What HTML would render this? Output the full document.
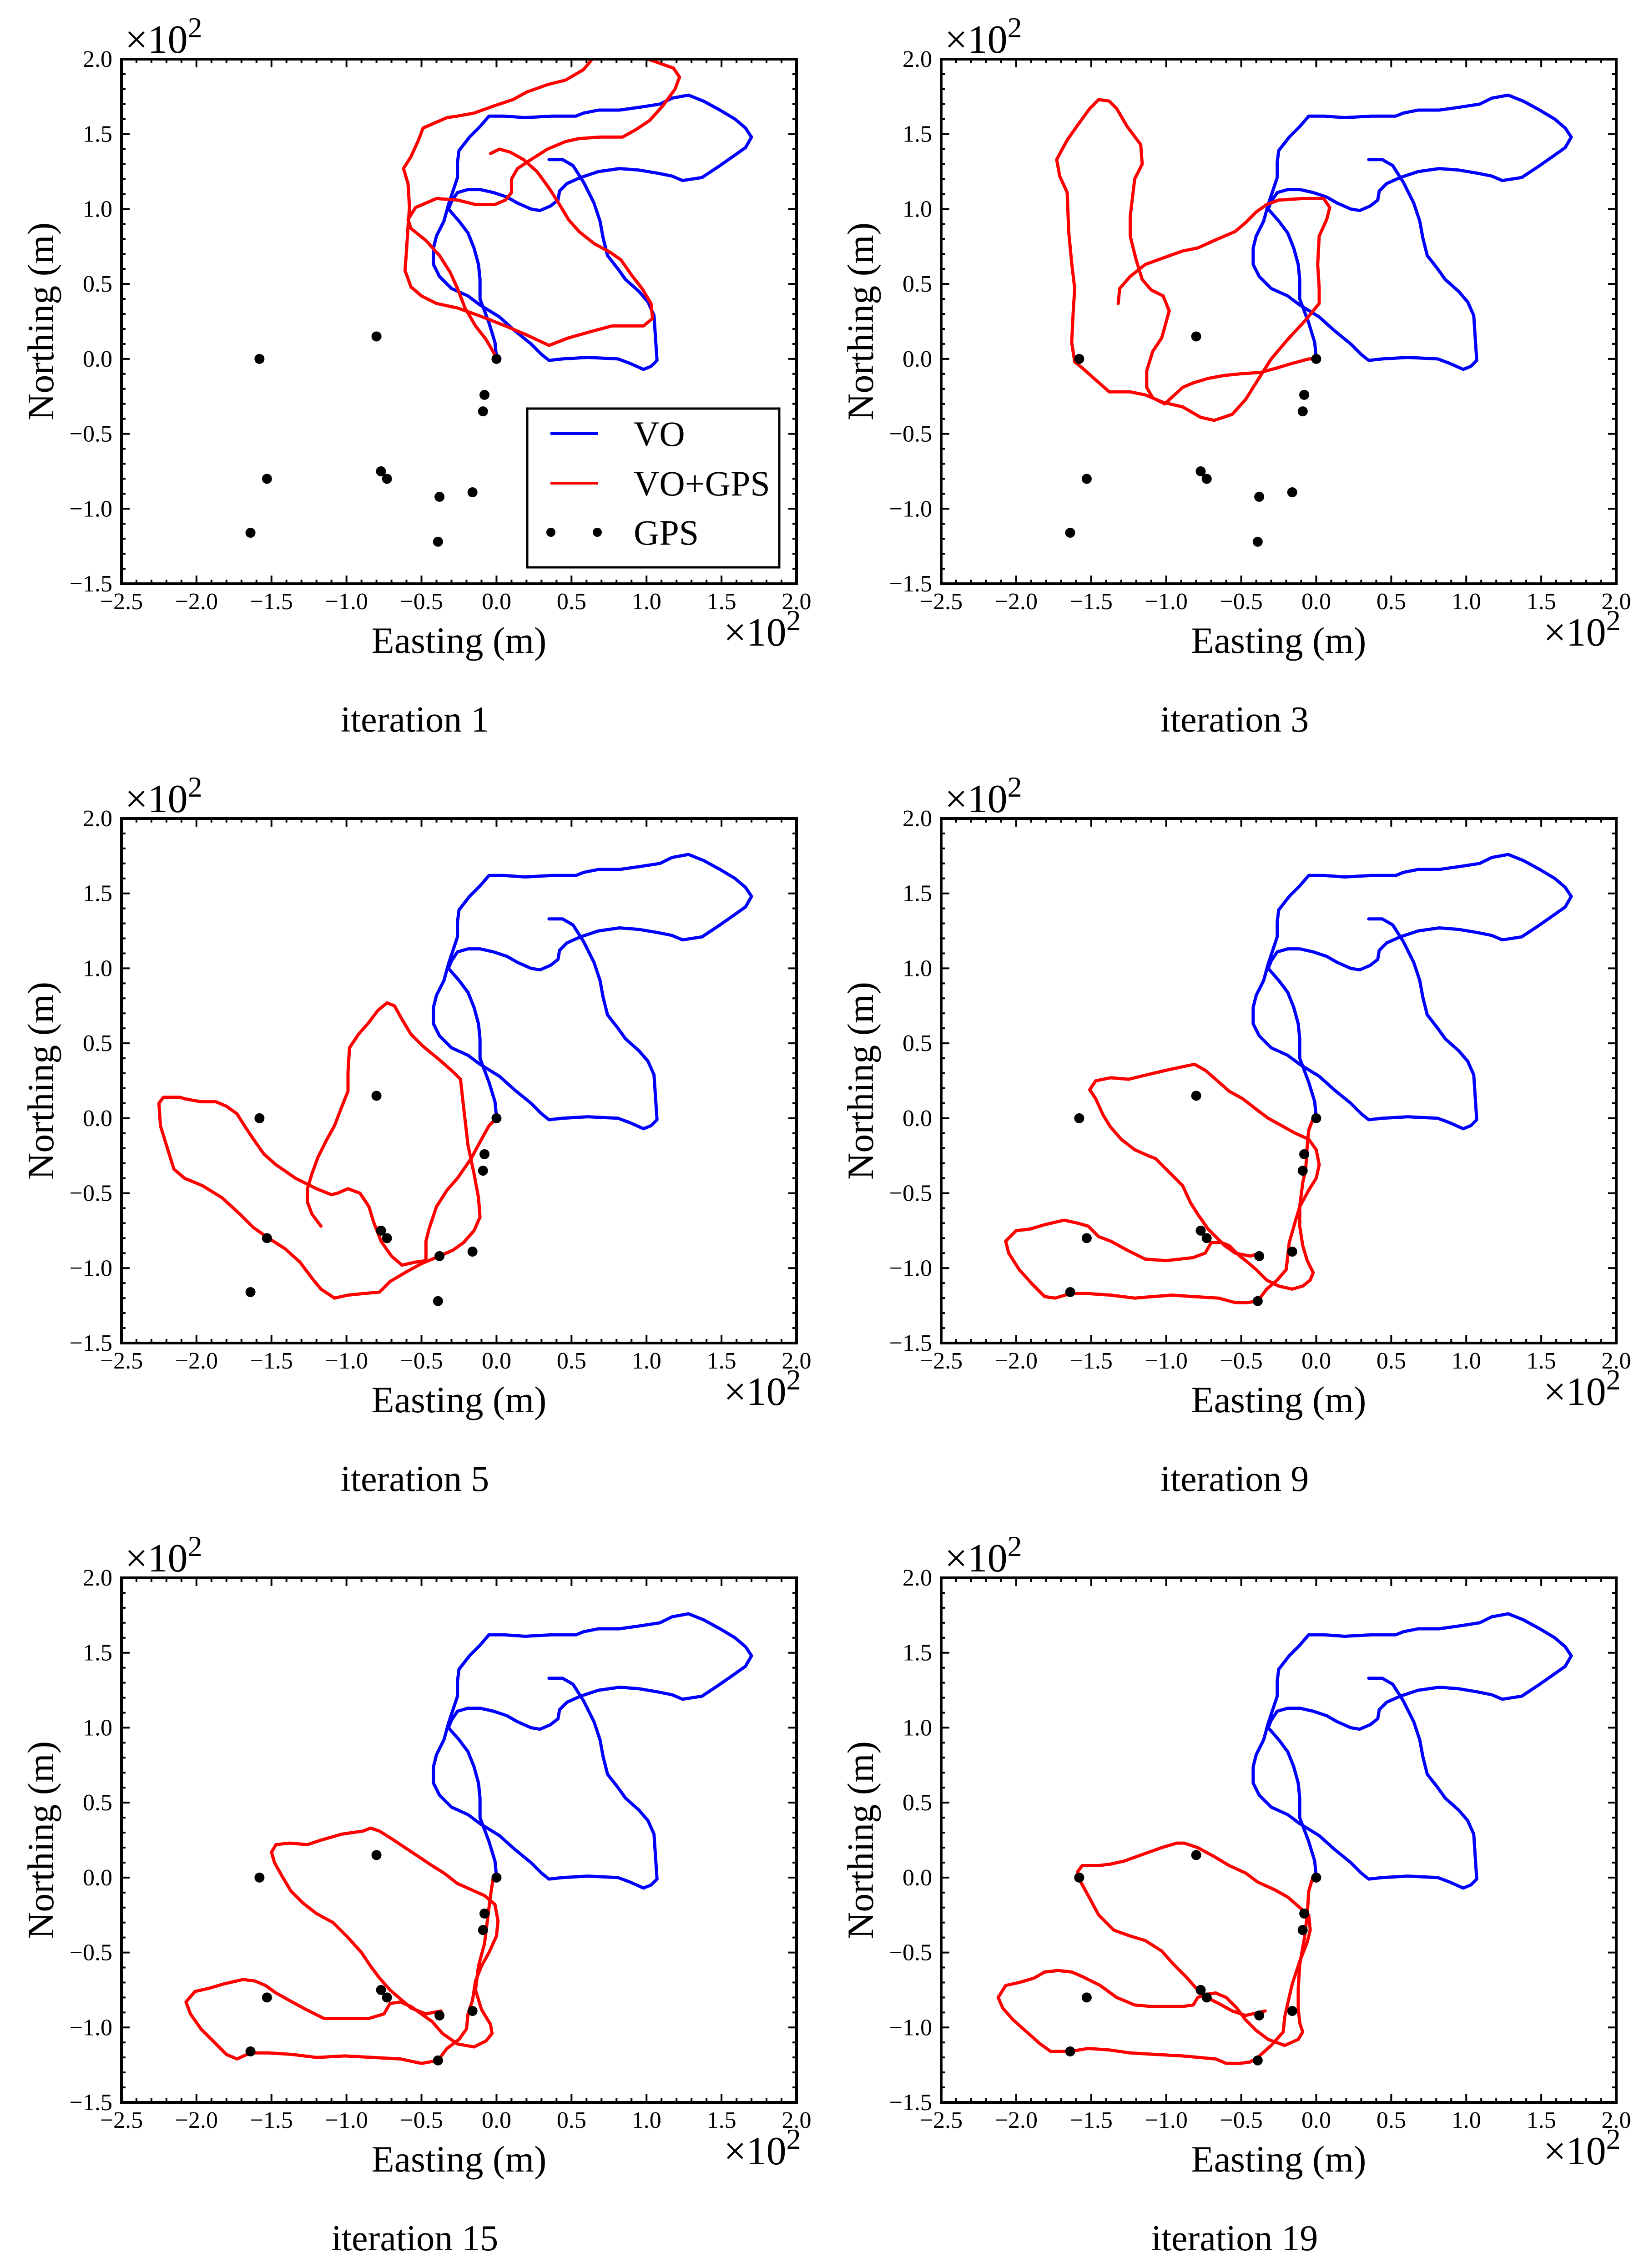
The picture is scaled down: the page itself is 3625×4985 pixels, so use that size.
<!DOCTYPE html>
<html>
<head>
<meta charset="utf-8">
<style>
html,body{margin:0;padding:0;background:#fff;}
svg{display:block;}
text{font-family:"Liberation Serif","DejaVu Serif",serif;fill:#000;}
</style>
</head>
<body>
<svg id="fig" xmlns="http://www.w3.org/2000/svg" width="3625" height="4985" viewBox="0 0 3625 4985"></svg>
<script>
// ---------- data (units of 10^2 m) ----------
const xTicks = [-2.5, -2.0, -1.5, -1.0, -0.5, 0.0, 0.5, 1.0, 1.5, 2.0];
const xTickLabels = ["\u22122.5","\u22122.0","\u22121.5","\u22121.0","\u22120.5","0.0","0.5","1.0","1.5","2.0"];
const yTicks = [-1.5, -1.0, -0.5, 0.0, 0.5, 1.0, 1.5, 2.0];
const yTickLabels = ["\u22121.5","\u22121.0","\u22120.5","0.0","0.5","1.0","1.5","2.0"];
const panelTitles = ["iteration 1","iteration 3","iteration 5","iteration 9","iteration 15","iteration 19"];

const gpsE = [-1.58, -0.80, -0.08, -0.09, 0.00, -0.77, -0.73, -1.53, -0.38, -0.16, -1.64, -0.39];
const gpsN = [0.00, 0.15, -0.24, -0.35, 0.00, -0.75, -0.80, -0.80, -0.92, -0.89, -1.16, -1.22];

const voE = [0,-0.01,-0.05,-0.11,-0.11,-0.12,-0.15,-0.19,-0.25,-0.32,-0.30,-0.26,-0.19,-0.11,-0.02,0.07,0.14,0.23,0.29,0.36,0.41,0.42,0.47,0.56,0.68,0.82,0.95,1.07,1.17,1.24,1.37,1.49,1.59,1.66,1.70,1.66,1.59,1.49,1.38,1.28,1.17,1.09,0.96,0.82,0.68,0.58,0.53,0.37,0.19,0.05,-0.05,-0.11,-0.18,-0.25,-0.26,-0.26,-0.29,-0.32,-0.35,-0.40,-0.42,-0.42,-0.38,-0.30,-0.19,-0.11,0.02,0.12,0.23,0.30,0.35,0.44,0.61,0.81,0.89,0.98,1.03,1.07,1.06,1.05,1.01,0.95,0.86,0.81,0.74,0.71,0.69,0.65,0.58,0.51,0.44,0.35];
const voN = [0.01,0.11,0.24,0.40,0.53,0.63,0.74,0.84,0.92,1.00,1.05,1.11,1.13,1.13,1.11,1.08,1.04,1.00,0.99,1.02,1.06,1.12,1.17,1.21,1.25,1.27,1.26,1.24,1.22,1.19,1.21,1.29,1.36,1.41,1.48,1.54,1.60,1.66,1.72,1.76,1.74,1.70,1.68,1.66,1.66,1.64,1.62,1.62,1.61,1.62,1.62,1.55,1.48,1.39,1.31,1.21,1.12,1.03,0.92,0.82,0.74,0.63,0.55,0.47,0.42,0.36,0.28,0.19,0.10,0.03,-0.01,0,0.01,0,-0.03,-0.07,-0.05,-0.01,0.14,0.29,0.38,0.45,0.53,0.60,0.69,0.81,0.92,1.04,1.18,1.29,1.33,1.33];

const red1E = [0,-0.07,-0.14,-0.21,-0.26,-0.31,-0.38,-0.47,-0.57,-0.59,-0.54,-0.40,-0.26,-0.14,-0.01,0.06,0.10,0.10,0.14,0.23,0.34,0.46,0.55,0.69,0.84,0.93,1.02,1.11,1.19,1.22,1.18,1.04,0.91,0.65,0.63,0.58,0.46,0.34,0.20,0.11,-0.01,-0.15,-0.26,-0.33,-0.49,-0.52,-0.57,-0.62,-0.59,-0.58,-0.59,-0.60,-0.61,-0.57,-0.50,-0.40,-0.26,-0.12,0.06,0.20,0.35,0.48,0.62,0.77,0.90,0.98,1.04,1.03,0.97,0.90,0.83,0.76,0.65,0.55,0.48,0.42,0.35,0.27,0.18,0.09,0.02,-0.04];
const red1N = [0.01,0.13,0.22,0.34,0.47,0.58,0.69,0.79,0.87,0.93,1.01,1.07,1.06,1.03,1.03,1.06,1.11,1.20,1.27,1.33,1.40,1.45,1.47,1.48,1.48,1.53,1.59,1.69,1.80,1.88,1.94,1.99,2.03,2.03,1.99,1.93,1.86,1.83,1.78,1.73,1.69,1.64,1.62,1.61,1.54,1.46,1.35,1.27,1.17,1.01,0.88,0.72,0.59,0.48,0.42,0.37,0.34,0.29,0.22,0.16,0.09,0.14,0.18,0.22,0.22,0.22,0.27,0.37,0.47,0.56,0.66,0.71,0.77,0.85,0.93,1.03,1.14,1.25,1.33,1.38,1.40,1.37];

const red3E = [0,-0.05,-0.16,-0.26,-0.37,-0.51,-0.61,-0.72,-0.82,-0.89,-1.01,-1.09,-1.13,-1.13,-1.09,-1.03,-0.98,-1.02,-1.10,-1.16,-1.20,-1.24,-1.24,-1.21,-1.16,-1.17,-1.26,-1.33,-1.38,-1.45,-1.51,-1.59,-1.66,-1.73,-1.71,-1.66,-1.65,-1.63,-1.61,-1.62,-1.63,-1.61,-1.56,-1.47,-1.38,-1.24,-1.14,-1.02,-0.89,-0.77,-0.68,-0.56,-0.47,-0.37,-0.30,-0.19,-0.07,0.02,0.02,0.01,0.02,0.07,0.09,0.05,-0.09,-0.25,-0.33,-0.40,-0.47,-0.54,-0.68,-0.79,-0.89,-1.03,-1.14,-1.24,-1.31,-1.32];
const red3N = [0,0.00,-0.03,-0.06,-0.09,-0.10,-0.11,-0.13,-0.16,-0.19,-0.30,-0.26,-0.19,-0.08,0.05,0.14,0.32,0.42,0.46,0.53,0.66,0.82,0.95,1.20,1.30,1.43,1.55,1.67,1.72,1.73,1.67,1.56,1.46,1.33,1.22,1.11,0.85,0.64,0.47,0.31,0.11,-0.02,-0.06,-0.14,-0.22,-0.22,-0.24,-0.29,-0.32,-0.39,-0.41,-0.37,-0.27,-0.11,0,0.13,0.26,0.37,0.47,0.63,0.82,0.93,1.01,1.07,1.07,1.06,1.03,0.98,0.91,0.85,0.79,0.74,0.72,0.67,0.63,0.55,0.47,0.37];

const red5E = [0,-0.05,-0.10,-0.17,-0.26,-0.33,-0.40,-0.45,-0.47,-0.47,-0.54,-0.63,-0.70,-0.77,-0.82,-0.85,-0.91,-0.99,-1.06,-1.10,-1.20,-1.34,-1.47,-1.55,-1.62,-1.68,-1.73,-1.80,-1.87,-1.97,-2.08,-2.11,-2.22,-2.25,-2.24,-2.20,-2.15,-2.08,-1.96,-1.83,-1.71,-1.62,-1.52,-1.41,-1.31,-1.22,-1.17,-1.08,-0.99,-0.89,-0.78,-0.71,-0.61,-0.50,-0.38,-0.29,-0.22,-0.15,-0.11,-0.12,-0.15,-0.19,-0.22,-0.24,-0.29,-0.38,-0.49,-0.57,-0.63,-0.68,-0.73,-0.79,-0.85,-0.92,-0.98,-0.99,-0.99,-1.03,-1.08,-1.13,-1.19,-1.23,-1.26,-1.26,-1.23,-1.17];
const red5N = [0,-0.05,-0.14,-0.27,-0.40,-0.48,-0.59,-0.74,-0.82,-0.95,-0.96,-0.98,-0.92,-0.82,-0.69,-0.59,-0.50,-0.47,-0.50,-0.51,-0.47,-0.40,-0.31,-0.24,-0.14,-0.05,0.03,0.08,0.11,0.11,0.13,0.14,0.14,0.10,-0.05,-0.18,-0.34,-0.40,-0.45,-0.53,-0.64,-0.73,-0.80,-0.87,-0.96,-1.08,-1.14,-1.20,-1.18,-1.17,-1.16,-1.09,-1.03,-0.97,-0.92,-0.88,-0.83,-0.75,-0.66,-0.53,-0.37,-0.18,0.08,0.26,0.31,0.39,0.48,0.56,0.66,0.75,0.77,0.72,0.64,0.56,0.47,0.31,0.18,0.08,-0.05,-0.14,-0.26,-0.37,-0.47,-0.56,-0.64,-0.72];

const red9E = [-0.02,-0.05,-0.06,-0.07,-0.09,-0.11,-0.11,-0.09,-0.06,-0.02,-0.04,-0.09,-0.16,-0.25,-0.33,-0.40,-0.47,-0.51,-0.58,-0.63,-0.70,-0.74,-0.82,-1.00,-1.14,-1.26,-1.37,-1.45,-1.52,-1.59,-1.68,-1.81,-1.91,-2.00,-2.07,-2.05,-1.98,-1.89,-1.81,-1.74,-1.64,-1.52,-1.37,-1.21,-1.09,-0.96,-0.82,-0.65,-0.54,-0.46,-0.39,-0.33,-0.26,-0.20,-0.19,-0.18,-0.14,-0.11,-0.05,0,0.02,0,-0.05,-0.14,-0.23,-0.32,-0.40,-0.49,-0.58,-0.67,-0.74,-0.81,-0.86,-1.00,-1.17,-1.25,-1.37,-1.47,-1.51,-1.47,-1.42,-1.37,-1.30,-1.21,-1.12,-1.07,-0.98,-0.89,-0.84,-0.79,-0.72,-0.67,-0.61,-0.54,-0.44,-0.37];
const red9N = [0,-0.08,-0.18,-0.34,-0.43,-0.59,-0.72,-0.85,-0.95,-1.03,-1.08,-1.12,-1.14,-1.12,-1.08,-1.01,-0.95,-0.92,-0.85,-0.83,-0.83,-0.90,-0.93,-0.95,-0.94,-0.88,-0.82,-0.79,-0.72,-0.70,-0.68,-0.71,-0.74,-0.75,-0.82,-0.90,-1.01,-1.11,-1.19,-1.20,-1.17,-1.17,-1.18,-1.20,-1.19,-1.18,-1.19,-1.20,-1.23,-1.23,-1.22,-1.14,-1.08,-1.01,-0.92,-0.83,-0.69,-0.59,-0.48,-0.40,-0.31,-0.21,-0.14,-0.10,-0.05,0,0.06,0.13,0.18,0.26,0.32,0.36,0.35,0.32,0.28,0.26,0.27,0.25,0.19,0.13,0.02,-0.06,-0.14,-0.21,-0.25,-0.27,-0.36,-0.45,-0.56,-0.64,-0.74,-0.79,-0.85,-0.90,-0.92,-0.90];

const red15E = [-0.02,-0.04,-0.06,-0.08,-0.12,-0.14,-0.10,-0.04,-0.03,-0.07,-0.15,-0.26,-0.36,-0.43,-0.50,-0.57,-0.64,-0.71,-0.75,-0.85,-0.99,-1.15,-1.27,-1.38,-1.47,-1.54,-1.61,-1.69,-1.82,-1.92,-2.01,-2.07,-2.04,-1.97,-1.89,-1.80,-1.73,-1.64,-1.52,-1.36,-1.20,-1.01,-0.82,-0.64,-0.50,-0.39,-0.33,-0.25,-0.20,-0.19,-0.16,-0.14,-0.10,-0.05,0,0.01,-0.01,-0.08,-0.17,-0.26,-0.35,-0.43,-0.52,-0.61,-0.70,-0.78,-0.84,-0.89,-1.03,-1.17,-1.26,-1.38,-1.47,-1.50,-1.48,-1.43,-1.37,-1.29,-1.20,-1.09,-0.99,-0.90,-0.84,-0.78,-0.71,-0.64,-0.57,-0.47,-0.37];
const red15N = [0.01,-0.12,-0.28,-0.44,-0.59,-0.75,-0.88,-0.98,-1.04,-1.09,-1.13,-1.11,-1.04,-0.96,-0.91,-0.86,-0.83,-0.84,-0.91,-0.94,-0.94,-0.94,-0.88,-0.82,-0.77,-0.72,-0.69,-0.68,-0.71,-0.74,-0.76,-0.83,-0.91,-1.01,-1.09,-1.18,-1.21,-1.17,-1.17,-1.18,-1.20,-1.19,-1.20,-1.21,-1.24,-1.22,-1.14,-1.08,-1.01,-0.91,-0.82,-0.69,-0.59,-0.50,-0.39,-0.29,-0.18,-0.12,-0.08,-0.04,0.03,0.08,0.14,0.20,0.26,0.31,0.33,0.31,0.29,0.25,0.22,0.23,0.22,0.17,0.10,0.01,-0.09,-0.17,-0.24,-0.30,-0.40,-0.50,-0.59,-0.67,-0.75,-0.81,-0.87,-0.91,-0.89];

const red19E = [-0.02,-0.05,-0.06,-0.08,-0.11,-0.12,-0.12,-0.11,-0.09,-0.12,-0.21,-0.32,-0.40,-0.47,-0.53,-0.60,-0.67,-0.74,-0.79,-0.82,-0.89,-1.10,-1.21,-1.33,-1.44,-1.56,-1.63,-1.72,-1.81,-1.88,-1.98,-2.07,-2.12,-2.09,-2.02,-1.93,-1.84,-1.77,-1.64,-1.52,-1.38,-1.24,-1.07,-0.89,-0.67,-0.60,-0.51,-0.44,-0.39,-0.30,-0.22,-0.21,-0.19,-0.16,-0.11,-0.06,-0.04,-0.05,-0.11,-0.19,-0.28,-0.39,-0.47,-0.58,-0.68,-0.79,-0.88,-0.93,-1.03,-1.17,-1.28,-1.37,-1.45,-1.56,-1.59,-1.58,-1.52,-1.45,-1.35,-1.24,-1.14,-1.03,-0.95,-0.86,-0.79,-0.73,-0.65,-0.56,-0.47,-0.34];
const red19N = [0.01,-0.09,-0.25,-0.41,-0.58,-0.74,-0.87,-0.97,-1.03,-1.08,-1.12,-1.08,-1.02,-0.95,-0.87,-0.80,-0.77,-0.78,-0.80,-0.85,-0.86,-0.86,-0.85,-0.80,-0.72,-0.66,-0.63,-0.62,-0.63,-0.67,-0.70,-0.72,-0.80,-0.87,-0.95,-1.03,-1.11,-1.16,-1.16,-1.14,-1.15,-1.17,-1.18,-1.19,-1.21,-1.24,-1.24,-1.23,-1.20,-1.12,-1.03,-0.93,-0.84,-0.71,-0.56,-0.43,-0.35,-0.25,-0.20,-0.13,-0.08,-0.03,0.03,0.08,0.14,0.20,0.23,0.23,0.20,0.15,0.11,0.09,0.08,0.08,0.04,-0.01,-0.12,-0.25,-0.35,-0.39,-0.42,-0.49,-0.58,-0.67,-0.75,-0.80,-0.84,-0.89,-0.92,-0.89];

// ---------- layout ----------
const NS = "http://www.w3.org/2000/svg";
const svg = document.getElementById("fig");
const AX_W = 1484, AX_H = 1153;
const XMIN = -2.5, XMAX = 2.0, YMIN = -1.5, YMAX = 2.0;
const colLeft = [267, 2069];
const rowTop = [130, 1799, 3468];
const redSetsE = [red1E, red3E, red5E, red9E, red15E, red19E];
const redSetsN = [red1N, red3N, red5N, red9N, red15N, red19N];

function mk(tag, attrs, parent) {
  const e = document.createElementNS(NS, tag);
  for (const k in attrs) e.setAttribute(k, attrs[k]);
  parent.appendChild(e);
  return e;
}

function drawPanel(idx) {
  const L = colLeft[idx % 2], T = rowTop[Math.floor(idx / 2)];
  const sx = v => L + (v - XMIN) / (XMAX - XMIN) * AX_W;
  const sy = v => T + (YMAX - v) / (YMAX - YMIN) * AX_H;
  const g = mk("g", {}, svg);
  
  

  const clipId = "clip" + idx;
  const cp = mk("clipPath", {id: clipId}, g);
  mk("rect", {x: L, y: T, width: AX_W, height: AX_H}, cp);

  const plot = mk("g", {"clip-path": "url(#" + clipId + ")"}, g);
  
  

  let pts = voE.map((e, i) => sx(e).toFixed(1) + "," + sy(voN[i]).toFixed(1)).join(" ");
  const vo = mk("polyline", {points: pts, fill: "none", stroke: "#0000ff", "stroke-width": 7, "stroke-linejoin": "round", "stroke-linecap": "round"}, plot);
  
  

  const rE = redSetsE[idx], rN = redSetsN[idx];
  pts = rE.map((e, i) => sx(e).toFixed(1) + "," + sy(rN[i]).toFixed(1)).join(" ");
  const rl = mk("polyline", {points: pts, fill: "none", stroke: "#ff0000", "stroke-width": 7, "stroke-linejoin": "round", "stroke-linecap": "round"}, plot);
  
  

  gpsE.forEach((e, i) => {
    const c = mk("circle", {cx: sx(e), cy: sy(gpsN[i]), r: 11, fill: "#000"}, plot);
    
    
  });

  const tg = mk("g", {stroke: "#000", "stroke-width": 4}, g);
  
  
  for (let k = 0; k <= 45; k++) {
    const v = XMIN + k * 0.1, x = sx(v), len = (k % 5 === 0) ? 18 : 9;
    mk("line", {x1: x, y1: T + AX_H, x2: x, y2: T + AX_H - len}, tg);
    mk("line", {x1: x, y1: T, x2: x, y2: T + len}, tg);
  }
  for (let k = 0; k <= 35; k++) {
    const v = YMIN + k * 0.1, y = sy(v), len = (k % 5 === 0) ? 18 : 9;
    mk("line", {x1: L, y1: y, x2: L + len, y2: y}, tg);
    mk("line", {x1: L + AX_W, y1: y, x2: L + AX_W - len, y2: y}, tg);
  }

  const fr = mk("rect", {x: L, y: T, width: AX_W, height: AX_H, fill: "none", stroke: "#000", "stroke-width": 6}, g);
  
  

  xTicks.forEach((v, i) => {
    const t = mk("text", {x: sx(v), y: T + AX_H + 56, "font-size": 52, "text-anchor": "middle"}, g);
    t.textContent = xTickLabels[i];
    
    
  });
  yTicks.forEach((v, i) => {
    const t = mk("text", {x: L - 20, y: sy(v) + 17, "font-size": 52, "text-anchor": "end"}, g);
    t.textContent = yTickLabels[i];
    
    
  });

  const m1 = mk("text", {x: L + 8, y: T - 14, "font-size": 88}, g);
  m1.innerHTML = '\u00d710<tspan dy="-34" font-size="64">2</tspan>';
  
  
  const m2 = mk("text", {x: L + AX_W - 160, y: T + AX_H + 136, "font-size": 88}, g);
  m2.innerHTML = '\u00d710<tspan dy="-34" font-size="64">2</tspan>';
  
  

  const xt = mk("text", {x: L + AX_W / 2, y: T + AX_H + 152, "font-size": 82, "text-anchor": "middle"}, g);
  xt.textContent = "Easting (m)";
  
  
  const yc = T + AX_H / 2, xcx = L - 150;
  const yt = mk("text", {x: xcx, y: yc, "font-size": 82, "text-anchor": "middle", transform: "rotate(-90 " + xcx + " " + yc + ")"}, g);
  yt.textContent = "Northing (m)";
  
  

  const cap = mk("text", {x: L + 645, y: T + 1478, "font-size": 80, "text-anchor": "middle"}, g);
  cap.textContent = panelTitles[idx];
  
  

  if (idx === 0) {
    const lg = mk("g", {}, g);
    
    
    mk("rect", {x: 1159, y: 898, width: 554, height: 349, fill: "#fff", stroke: "#000", "stroke-width": 5}, lg);
    const l1 = mk("line", {x1: 1210, y1: 953, x2: 1315, y2: 953, stroke: "#0000ff", "stroke-width": 6}, lg);
    
    
    const l2 = mk("line", {x1: 1210, y1: 1062, x2: 1315, y2: 1062, stroke: "#ff0000", "stroke-width": 6}, lg);
    
    
    mk("circle", {cx: 1211, cy: 1170, r: 10, fill: "#000"}, lg);
    mk("circle", {cx: 1313, cy: 1170, r: 10, fill: "#000"}, lg);
    const labels = ["VO", "VO+GPS", "GPS"], ys = [980, 1089, 1197];
    labels.forEach((s, i) => {
      const t = mk("text", {x: 1393, y: ys[i], "font-size": 78}, lg);
      t.textContent = s;
      
      
    });
  }
}

for (let i = 0; i < 6; i++) drawPanel(i);
</script>
</body>
</html>
